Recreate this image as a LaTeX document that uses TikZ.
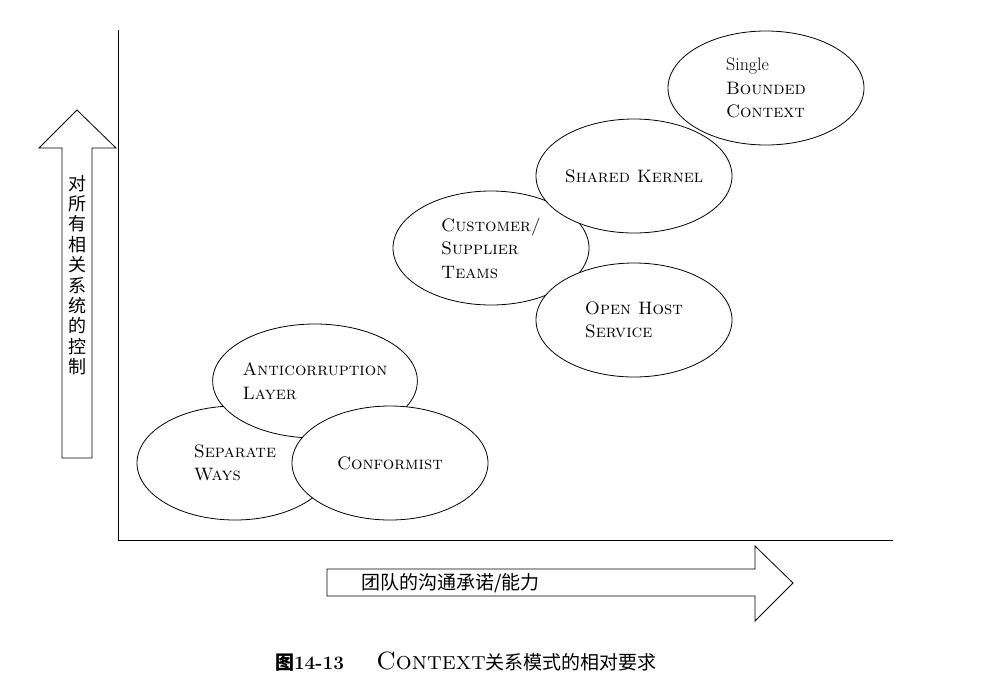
\documentclass[tikz,border=0pt]{standalone}
\usepackage{fontspec}
\newfontfamily\cjk{Noto Sans CJK SC}
\usetikzlibrary{shapes.geometric}
\tikzset{
  ctx/.style={ellipse,draw,fill=white,line width=0.8pt,minimum width=196pt,minimum height=114pt,inner sep=0pt,align=left,font=\fontsize{18}{23.5}\selectfont\scshape},
  hollow/.style={draw,line width=0.8pt,fill=white}
}
\begin{document}
\begin{tikzpicture}[x=1pt,y=-1pt]
\useasboundingbox (0,0) rectangle (983,697);
\coordinate (O) at (118,540);
\coordinate (Ytop) at (118,30);
\coordinate (Xend) at (893,540);
% axes
\draw [line width=0.8pt] (Ytop) -- (O) -- (Xend);
% vertical hollow arrow
\coordinate (V0) at (62,458);
\coordinate (V1) at (92,458);
\coordinate (VT) at (77,110);
\draw [hollow] (V0) -- (62,148) -- (39,148) -- (VT) -- (116,148) -- (92,148) -- (V1) -- cycle;
\node [align=center,font=\fontsize{18}{20.4}\selectfont\cjk] (vlabel) at (77,275) {对\\所\\有\\相\\关\\系\\统\\的\\控\\制};
% horizontal hollow arrow
\coordinate (H0) at (327,569);
\coordinate (H1) at (327,596);
\coordinate (HT) at (793,583);
\draw [hollow] (H0) -- (755,569) -- (755,546) -- (HT) -- (755,621) -- (755,596) -- (H1) -- cycle;
\node [anchor=west,font=\fontsize{19}{22}\selectfont\cjk] (hlabel) at (358,583) {团队的沟通承诺/能力};
% patterns
\node [ctx] (single) at (766,88) {{\upshape Single}\\Bounded\\Context};
\node [ctx] (customer) at (491,248) {Customer/\\Supplier\\Teams};
\node [ctx] (shared) at (634,176) {Shared Kernel};
\node [ctx] (openhost) at (634,320) {Open Host\\Service};
\node [ctx] (separate) at (235,463) {Separate\\Ways};
\node [ctx] (anticorr) at (315,381) {Anticorruption\\Layer};
\node [ctx] (conform) at (390,463) {Conformist};
% caption
\node [font=\fontsize{19}{22}\selectfont] (caption) at (466,662) {{\cjk\bfseries 图}{\bfseries 14-13}\hspace{1.7em}{\fontsize{25}{28}\selectfont\scshape Context}{\cjk 关系模式的相对要求}};
\end{tikzpicture}
\end{document}
